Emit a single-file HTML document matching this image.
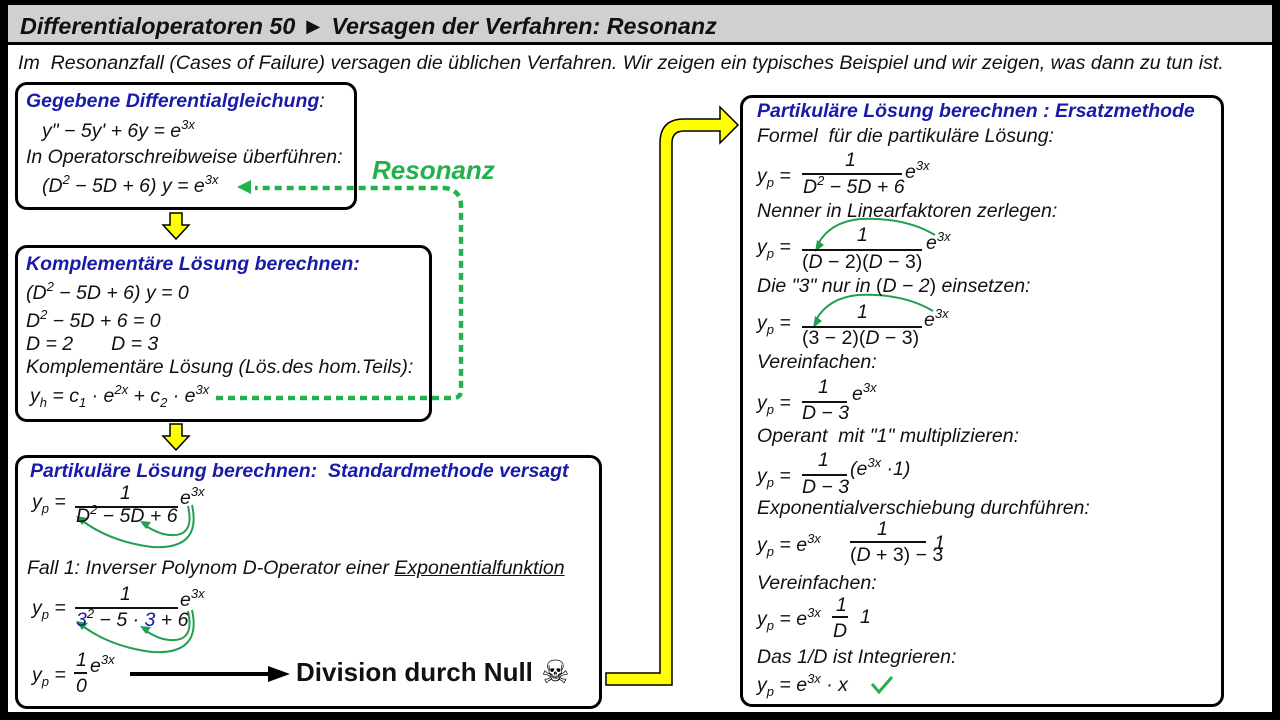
<!DOCTYPE html>
<html><head><meta charset="utf-8"><style>
body{margin:0;width:1280px;height:720px;background:#000;position:relative;overflow:hidden;font-family:"Liberation Sans",sans-serif}
.t{position:absolute;white-space:nowrap;font-style:italic;font-size:19.5px;color:#111;line-height:20px}
.b{font-weight:bold;color:#1a1aa8}
.box{position:absolute;border:3px solid #000;border-radius:12px;background:#fff}
sup{font-size:13px;vertical-align:8px;line-height:0}
sub{font-size:13px;vertical-align:-5px;line-height:0}
.ln{position:absolute;height:1.5px;background:#111}
</style></head><body>
<div style="position:absolute;left:8px;top:5px;width:1264px;height:37px;background:#d0d0d0"></div>
<div class="t" style="left:20px;top:14px;font-size:23.3px;font-weight:bold;line-height:24px">Differentialoperatoren 50 ► Versagen der Verfahren: Resonanz</div>
<div style="position:absolute;left:8px;top:45px;width:1264px;height:667px;background:#fff"></div>
<div class="t" style="left:18px;top:53px;font-size:19.6px">Im &nbsp;Resonanzfall (Cases of Failure) versagen die üblichen Verfahren. Wir zeigen ein typisches Beispiel und wir zeigen, was dann zu tun ist.</div>

<div class="box" style="left:15px;top:82px;width:336px;height:122px"></div>
<div class="box" style="left:15px;top:245px;width:411px;height:171px"></div>
<div class="box" style="left:15px;top:455px;width:581px;height:248px"></div>
<div class="box" style="left:740px;top:95px;width:478px;height:606px"></div>

<svg style="position:absolute;left:0;top:0" width="1280" height="720">
<g fill="#ffff00" stroke="#000" stroke-width="1.5">
<path d="M170 213h12v12h7l-13 14-13-14h7z"/>
<path d="M170 424h12v12h7l-13 14-13-14h7z"/>
<path d="M606 673h54v-530q0-24 24-24h36v-12l18 18-18 18v-12h-36q-12 0-12 12v542h-66z"/>
</g>
<g stroke="#22b14c" stroke-width="4.5" stroke-dasharray="7,5" fill="none">
<path d="M216 398h237q8 0 8-8v-184q0-16-16-18h-190"/>
</g>
<path d="M237 187l14-7v14z" fill="#22b14c"/>
<g stroke="#22a050" stroke-width="2" fill="none">
<path d="M192 505q10 45-40 42q-40-5-68-25"/><path d="M188 506q8 35-25 28q-10-3-20-10"/>
<path d="M192 610q10 45-40 42q-40-5-68-25"/><path d="M188 611q8 35-25 28q-10-3-20-10"/>
<path d="M935 235q-30-18-75-16q-30 3-42 25"/>
<path d="M933 311q-30-18-75-16q-30 3-42 25"/>
</g>
<g fill="#22a050"><path d="M76 516l12 2-6 7z"/><path d="M140 521l11 1-5 7z"/><path d="M76 621l12 2-6 7z"/><path d="M140 626l11 1-5 7z"/><path d="M815 252l2-12 7 5z"/><path d="M813 328l2-12 7 5z"/></g>
<path d="M130 674h140" stroke="#000" stroke-width="4"/><path d="M268 666l22 8-22 8z"/>
<path d="M872 684l7 8 13-15" stroke="#22b14c" stroke-width="3" fill="none"/>
</svg>
<div class="t" style="left:372px;top:156px;font-size:26px;line-height:28px;font-weight:bold;color:#22b14c">Resonanz</div>

<div class="t b" style="left:26px;top:91px">Gegebene Differentialgleichung<span style="color:#111;font-weight:normal">:</span></div>
<div class="t" style="left:42px;top:121px">y" − 5y' + 6y = e<sup>3x</sup></div>
<div class="t" style="left:26px;top:147px">In Operatorschreibweise überführen:</div>
<div class="t" style="left:42px;top:176px">(D<sup>2</sup> − 5D + 6) y = e<sup>3x</sup></div>

<div class="t b" style="left:26px;top:254px">Komplementäre Lösung berechnen:</div>
<div class="t" style="left:26px;top:283px">(D<sup>2</sup> − 5D + 6) y = 0</div>
<div class="t" style="left:26px;top:311px">D<sup>2</sup> − 5D + 6 = 0</div>
<div class="t" style="left:26px;top:334px">D = 2 &nbsp; &nbsp; &nbsp; D = 3</div>
<div class="t" style="left:26px;top:357px">Komplementäre Lösung (Lös.des hom.Teils):</div>
<div class="t" style="left:30px;top:386px">y<sub>h</sub> = c<sub>1</sub> · e<sup>2x</sup> + c<sub>2</sub> · e<sup>3x</sup></div>

<div class="t b" style="left:30px;top:461px">Partikuläre Lösung berechnen: &nbsp;Standardmethode versagt</div>
<div class="t" style="left:32px;top:492px">y<sub>p</sub> =</div>
<div class="t" style="left:120px;top:483px">1</div><div class="ln" style="left:75px;top:506px;width:103px"></div>
<div class="t" style="left:76px;top:506px">D<sup>2</sup> − 5D + 6</div>
<div class="t" style="left:180px;top:488px">e<sup>3x</sup></div>
<div class="t" style="left:27px;top:558px">Fall 1: Inverser Polynom D-Operator einer <u>Exponentialfunktion</u></div>
<div class="t" style="left:32px;top:598px">y<sub>p</sub> =</div>
<div class="t" style="left:120px;top:584px">1</div><div class="ln" style="left:75px;top:607px;width:103px"></div>
<div class="t" style="left:76px;top:610px"><span style="color:#1a1aa8">3</span><sup>2</sup> − 5 · <span style="color:#1a1aa8">3</span> + 6</div>
<div class="t" style="left:180px;top:590px">e<sup>3x</sup></div>
<div class="t" style="left:32px;top:665px">y<sub>p</sub> =</div>
<div class="t" style="left:76px;top:650px">1</div><div class="ln" style="left:74px;top:672px;width:13px"></div>
<div class="t" style="left:76px;top:676px">0</div>
<div class="t" style="left:90px;top:656px">e<sup>3x</sup></div>
<div class="t" style="left:296px;top:658px;font-size:26px;line-height:28px;font-weight:bold;font-style:normal">Division durch Null</div>
<div class="t" style="left:541px;top:655px;font-size:32px;font-style:normal;line-height:34px;color:#000">☠</div>

<div class="t b" style="left:757px;top:101px">Partikuläre Lösung berechnen : Ersatzmethode</div>
<div class="t" style="left:757px;top:126px">Formel &nbsp;für die partikuläre Lösung:</div>
<div class="t" style="left:757px;top:166px">y<sub>p</sub> =</div>
<div class="t" style="left:845px;top:150px">1</div><div class="ln" style="left:802px;top:173px;width:100px"></div>
<div class="t" style="left:803px;top:177px">D<sup>2</sup> − 5D + 6</div>
<div class="t" style="left:905px;top:162px">e<sup>3x</sup></div>
<div class="t" style="left:757px;top:201px">Nenner in Linearfaktoren zerlegen:</div>
<div class="t" style="left:757px;top:237px">y<sub>p</sub> =</div>
<div class="t" style="left:857px;top:225px">1</div><div class="ln" style="left:802px;top:249px;width:120px"></div>
<div class="t" style="left:802px;top:252px;font-style:normal">(<i>D</i> − 2)(<i>D</i> − 3)</div>
<div class="t" style="left:926px;top:233px">e<sup>3x</sup></div>
<div class="t" style="left:757px;top:276px">Die "3" nur in <span style="font-style:normal">(</span>D − 2<span style="font-style:normal">)</span> einsetzen:</div>
<div class="t" style="left:757px;top:313px">y<sub>p</sub> =</div>
<div class="t" style="left:857px;top:302px">1</div><div class="ln" style="left:802px;top:326px;width:120px"></div>
<div class="t" style="left:802px;top:328px;font-style:normal">(3 − 2)(<i>D</i> − 3)</div>
<div class="t" style="left:924px;top:310px">e<sup>3x</sup></div>
<div class="t" style="left:757px;top:352px">Vereinfachen:</div>
<div class="t" style="left:757px;top:393px">y<sub>p</sub> =</div>
<div class="t" style="left:818px;top:377px">1</div><div class="ln" style="left:802px;top:401px;width:45px"></div>
<div class="t" style="left:802px;top:403px">D − 3</div>
<div class="t" style="left:852px;top:384px">e<sup>3x</sup></div>
<div class="t" style="left:757px;top:426px">Operant &nbsp;mit "1" multiplizieren:</div>
<div class="t" style="left:757px;top:466px">y<sub>p</sub> =</div>
<div class="t" style="left:818px;top:450px">1</div><div class="ln" style="left:802px;top:474px;width:45px"></div>
<div class="t" style="left:802px;top:477px">D − 3</div>
<div class="t" style="left:850px;top:459px">(e<sup>3x</sup> ·1)</div>
<div class="t" style="left:757px;top:498px">Exponentialverschiebung durchführen:</div>
<div class="t" style="left:757px;top:535px">y<sub>p</sub> = e<sup>3x</sup></div>
<div class="t" style="left:877px;top:519px">1</div><div class="ln" style="left:850px;top:541px;width:76px"></div>
<div class="t" style="left:850px;top:545px;font-style:normal">(<i>D</i> + 3) − 3</div>
<div class="t" style="left:934px;top:533px">1</div>
<div class="t" style="left:757px;top:573px">Vereinfachen:</div>
<div class="t" style="left:757px;top:609px">y<sub>p</sub> = e<sup>3x</sup></div>
<div class="t" style="left:836px;top:595px">1</div><div class="ln" style="left:832px;top:616px;width:16px"></div>
<div class="t" style="left:833px;top:621px">D</div>
<div class="t" style="left:860px;top:607px">1</div>
<div class="t" style="left:757px;top:647px">Das 1/D ist Integrieren:</div>
<div class="t" style="left:757px;top:675px">y<sub>p</sub> = e<sup>3x</sup> · x</div>
</body></html>
